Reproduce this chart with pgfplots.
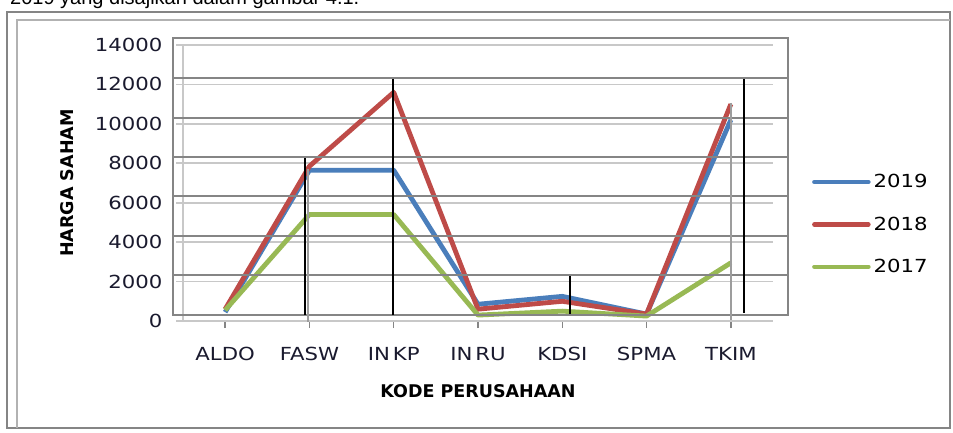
\documentclass[border=0pt]{standalone}
\usepackage{pgfplots}
\pgfplotsset{compat=1.18}
\usepackage{fontspec}
\setmainfont{DejaVu Sans}
\newfontfamily\chartfont[FakeStretch=1.18]{DejaVu Sans}
\newfontfamily\boldfont{DejaVu Sans}
\newfontfamily\topfont{Liberation Sans}
\definecolor{c19}{HTML}{4A7EBB}
\definecolor{c18}{HTML}{BE4B48}
\definecolor{c17}{HTML}{98B954}
\definecolor{lgrid}{HTML}{C8C8C8}
\definecolor{dgrid}{HTML}{858585}
\definecolor{tick}{HTML}{1A1A2E}
\begin{document}
\begin{tikzpicture}[x=1pt,y=1pt]
\useasboundingbox (0,0) rectangle (953,432);
\fill[white] (0,0) rectangle (953,432);
% top text (cut off at the page edge, as in the source)
\node[anchor=base west, inner sep=0pt, font=\topfont\fontsize{20}{20}\selectfont] at (10,427) {2019 yang disajikan dalam gambar 4.1.};
% frames
\draw[dgrid, line width=1.6] (7,4) rectangle (950,420);
\draw[lgrid!70!gray, line width=1.2] (17,4) -- (17,412) -- (950,412);
\begin{axis}[
  at={(183pt,111pt)}, anchor=south west,
  scale only axis, width=590pt, height=276pt,
  xmin=-0.5, xmax=6.5, ymin=0, ymax=14000,
  scaled y ticks=false,
  xtick={0,1,2,3,4,5,6},
  xticklabels={ALDO,FASW,IN\,KP,IN\,RU,KDSI,SPMA,TKIM},
  ytick={0,2000,4000,6000,8000,10000,12000,14000},
  yticklabels={0,2000,4000,6000,8000,10000,12000,14000},
  ymajorgrids, grid style={lgrid, line width=1.6pt},
  axis x line*=bottom, axis y line*=left,
  axis line style={lgrid, line width=1.6pt, -},
  x tick style={dgrid, line width=1.5pt},
  y tick style={lgrid, line width=1.6pt},
  tick align=outside, major tick length=7pt,
  ticklabel style={font=\chartfont\fontsize{18}{18}\selectfont, text=tick},
  xticklabel style={yshift=-16pt},
  yticklabel style={xshift=-10pt},
  xlabel={KODE PERUSAHAAN},
  ylabel={HARGA SAHAM},
  label style={font=\boldfont\bfseries\fontsize{17.5}{17.5}\selectfont},
  xlabel style={yshift=-16pt},
  ylabel style={yshift=14pt},
  clip=false,
  legend style={draw=none, fill=none, at={(axis description cs:1.066,0.35)}, anchor=west,
    font=\chartfont\fontsize{18}{18}\selectfont, row sep=21.5pt, inner sep=0pt,
    nodes={inner sep=3pt}},
  legend cell align=left,
  legend image code/.code={\draw[#1, line width=4.5pt, line cap=round] (0pt,0pt) -- (54pt,0pt);},
]
\addplot[c19, line width=4.8pt, line join=round] coordinates {(0,450) (1,7650) (2,7650) (3,850) (4,1250) (5,350) (6,10200)};
\addlegendentry{2019}
\addplot[c18, line width=4.8pt, line join=round] coordinates {(0,600) (1,7850) (2,11600) (3,600) (4,1000) (5,350) (6,11000)};
\addlegendentry{2018}
\addplot[c17, line width=4.8pt, line join=round] coordinates {(0,550) (1,5400) (2,5400) (3,300) (4,500) (5,250) (6,2950)};
\addlegendentry{2017}
\end{axis}
% table-like overlay grid
\draw[dgrid, line width=1.5] (173,117) rectangle (788,394);
\foreach \yy in {354,314,275,236,196,157} {\draw[dgrid, line width=1.5] (173,\yy) -- (788,\yy);}
\draw[dgrid!80, line width=1.5] (308,263) -- (308,110);
\draw[dgrid!80, line width=1.5] (731,329) -- (731,112);
% black vertical strokes
\draw[black, line width=1.4] (305,274) -- (305,117);
\draw[black, line width=1.4] (393,353) -- (393,117);
\draw[black, line width=1.4] (570,156) -- (570,118);
\draw[black, line width=1.4] (744,353) -- (744,119);
\end{tikzpicture}
\end{document}
